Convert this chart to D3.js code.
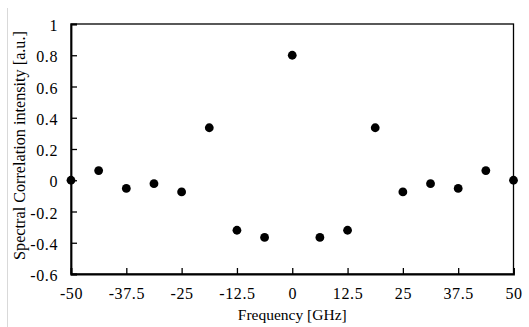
<!DOCTYPE html>
<html><head><meta charset="utf-8">
<script src="https://cdn.jsdelivr.net/npm/d3@7"></script>
<style>body{margin:0;background:#fff}svg{display:block}svg text{font-family:'Liberation Serif','Times New Roman',serif !important}</style>
</head><body>
<script>
const freq = [-50, -43.75, -37.5, -31.25, -25, -18.75, -12.5, -6.25, 0, 6.25, 12.5, 18.75, 25, 31.25, 37.5, 43.75, 50];
const intensity = [0.0, 0.062, -0.052, -0.022, -0.075, 0.336, -0.32, -0.366, 0.8, -0.366, -0.32, 0.336, -0.075, -0.022, -0.052, 0.062, 0.0];
const xTicks = [-50, -37.5, -25, -12.5, 0, 12.5, 25, 37.5, 50];
const yTicks = [-0.6, -0.4, -0.2, 0, 0.2, 0.4, 0.6, 0.8, 1];

const W = 529, H = 327;
const m = {l: 71, r: 15.5, t: 24, b: 53};
const FONT = "'Liberation Serif','Times New Roman',serif";
const svg = d3.select("body").append("svg").attr("width", W).attr("height", H)
  .attr("font-family", FONT);

svg.append("line").attr("x1", 7.5).attr("x2", 7.5).attr("y1", 8).attr("y2", H)
  .attr("stroke", "#d9d9d9").attr("stroke-width", 1);

const x = d3.scaleLinear().domain([-50, 50]).range([m.l, W - m.r]);
const y = d3.scaleLinear().domain([-0.6, 1]).range([H - m.b, m.t]);

const fmt = d => String(d);

svg.append("rect").attr("x", x(-50)).attr("y", y(1)).attr("width", x(50) - x(-50)).attr("height", y(-0.6) - y(1))
  .attr("fill", "none").attr("stroke", "#000").attr("stroke-width", 1.3);

const gx = svg.append("g").attr("transform", `translate(0,${y(-0.6)})`)
  .call(d3.axisBottom(x).tickValues(xTicks).tickSize(-6).tickPadding(13.5).tickFormat(fmt));
const gy = svg.append("g").attr("transform", `translate(${x(-50)},0)`)
  .call(d3.axisLeft(y).tickValues(yTicks).tickSize(-6).tickPadding(13).tickFormat(fmt));
[gx, gy].forEach(g => {
  g.attr("font-family", FONT).attr("font-size", 16);
  g.select(".domain").attr("stroke", "#000").attr("stroke-width", 1.8);
  g.selectAll(".tick line").attr("stroke", "#000").attr("stroke-width", 1.3);
  g.selectAll(".tick text").attr("fill", "#000").style("font-size", "16px")
   .style("letter-spacing", "0.6px");
});
gy.selectAll(".tick text").attr("dy", "0.42em");

svg.append("g").selectAll("circle").data(freq).join("circle")
  .attr("cx", d => x(d)).attr("cy", (d, i) => y(intensity[i])).attr("r", 4.4).attr("fill", "#000");

svg.append("text").attr("x", (x(-50) + x(50)) / 2).attr("y", 320).attr("text-anchor", "middle")
  .style("font-size", "15.5px").text("Frequency [GHz]");
svg.append("text").attr("transform", `translate(25,145.5) rotate(-90)`)
  .attr("text-anchor", "middle").style("font-size", "16.2px").text("Spectral Correlation intensity [a.u.]");
</script>
</body></html>
